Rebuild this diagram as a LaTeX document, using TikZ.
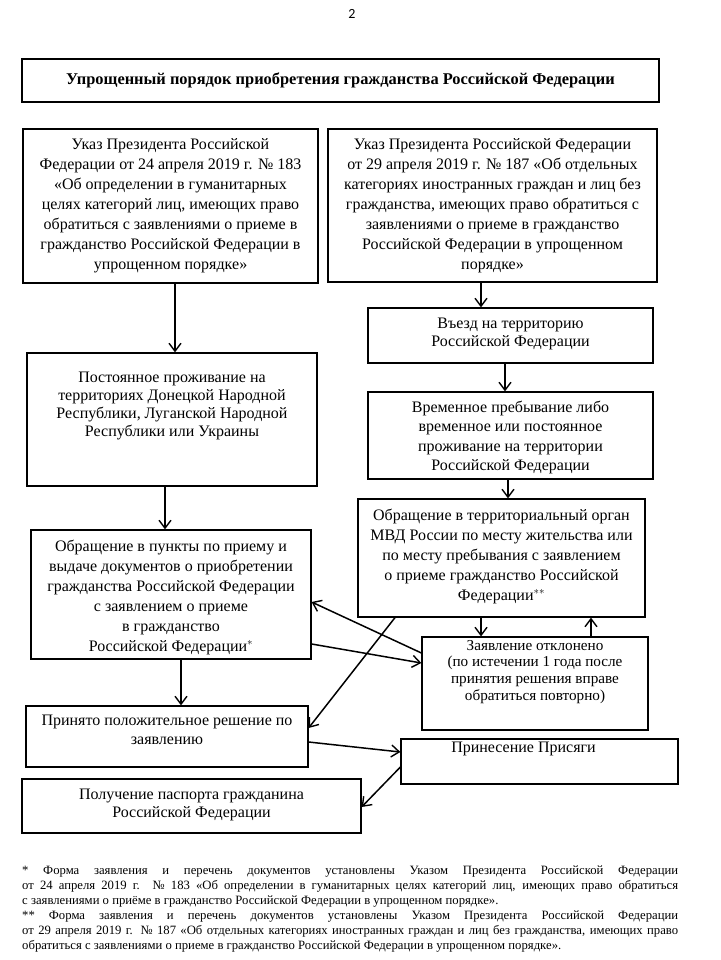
\documentclass[tikz,border=0pt]{standalone}
\usepackage{fontspec}
\setmainfont{Liberation Serif}
\newfontfamily\pagenumfont{Carlito}
\usetikzlibrary{arrows.meta}
\newcommand{\bxt}[4]{\parbox[c][#2][t]{#1}{\centering\vspace*{#3}#4\par}}
\tikzset{
  box/.style={draw, line width=1.2pt, inner sep=0pt, font=\fontsize{16}{20}\selectfont},
  arr/.style={line width=1.5pt, -{Straight Barb[length=8pt,width=12pt,line width=1.4pt]}},
}
\begin{document}
\begin{tikzpicture}[x=1pt,y=-1pt]
\useasboundingbox (0,0) rectangle (720,960);

\node[font=\pagenumfont\fontsize{14}{16}\selectfont] (pg) at (352,14) {2};

\node[box, minimum width=637pt, minimum height=43pt, font=\bfseries\fontsize{16.4}{20}\selectfont] (title) at (340.5,80.5)
  {Упрощенный порядок приобретения гражданства Российской Федерации};

\node[box] (A) at (170.5,206) {\bxt{295pt}{154pt}{10pt}{Указ Президента Российской\\ Федерации от 24 апреля 2019 г. № 183\\ «Об определении в гуманитарных\\ целях категорий лиц, имеющих право\\ обратиться с заявлениями о приеме в\\ гражданство Российской Федерации в\\ упрощенном порядке»}};

\node[box] (B) at (492.5,205.5) {\bxt{329pt}{153pt}{10pt}{Указ Президента Российской Федерации\\ от 29 апреля 2019 г. № 187 «Об отдельных\\ категориях иностранных граждан и лиц без\\ гражданства, имеющих право обратиться с\\ заявлениями о приеме в гражданство\\ Российской Федерации в упрощенном\\ порядке»}};

\node[box] (V) at (510.5,335.5) {\bxt{285pt}{55pt}{10pt}{\fontsize{16}{18}\selectfont Въезд на территорию\\ Российской Федерации}};

\node[box] (Vr) at (510.5,435.5) {\bxt{285pt}{87pt}{9pt}{\fontsize{16}{19.5}\selectfont Временное пребывание либо\\ временное или постоянное\\ проживание на территории\\ Российской Федерации}};

\node[box] (P) at (172,419.5) {\bxt{290pt}{133pt}{19pt}{\fontsize{16}{18}\selectfont Постоянное проживание на\\ территориях Донецкой Народной\\ Республики, Луганской Народной\\ Республики или Украины}};

\node[box] (M) at (501.5,558) {\bxt{287pt}{118pt}{10pt}{Обращение в территориальный орган\\ МВД России по месту жительства или\\ по месту пребывания с заявлением\\ о приеме гражданство Российской\\ Федерации$^{**}$}};

\node[box] (L) at (171,594.5) {\bxt{280pt}{129pt}{10pt}{Обращение в пункты по приему и\\ выдаче документов о приобретении\\ гражданства Российской Федерации\\ с заявлением о приеме\\ в гражданство\\ Российской Федерации$^{*}$}};

\node[box] (O) at (535,683.5) {\bxt{226pt}{93pt}{3pt}{\fontsize{15.2}{16.7}\selectfont Заявление отклонено\\ (по истечении 1 года после\\ принятия решения вправе\\ обратиться повторно)}};

\node[box] (Pr) at (167,736.5) {\bxt{282pt}{61pt}{9pt}{\fontsize{16}{19}\selectfont Принято положительное решение по\\ заявлению}};

\node[box] (S) at (539.5,761.5) {\bxt{277pt}{45pt}{3pt}{Принесение Присяги\hspace*{32pt}}};

\node[box] (G) at (191.5,806) {\bxt{339pt}{54pt}{10pt}{\fontsize{16}{18}\selectfont Получение паспорта гражданина\\ Российской Федерации}};

\draw[arr] ([xshift=4.5pt]A.south) -- ([xshift=4.5pt]A.south |- P.north);
\draw[arr] ([xshift=-11.5pt]B.south) -- ([xshift=-11.5pt]B.south |- V.north);
\draw[arr] ([xshift=-5.5pt]V.south) -- ([xshift=-5.5pt]V.south |- Vr.north);
\draw[arr] ([xshift=-2.5pt]Vr.south) -- ([xshift=-2.5pt]Vr.south |- M.north);
\draw[arr] ([xshift=-7pt]P.south) -- ([xshift=-7pt]P.south |- L.north);
\draw[arr] ([xshift=-20.5pt]M.south) -- ([xshift=-20.5pt]M.south |- O.north);
\draw[arr] ([xshift=56pt]O.north) -- ([xshift=56pt]O.north |- M.south);
\draw[arr] ([yshift=30.5pt]O.west) -- ([yshift=-7.5pt]L.east);
\draw[arr] ([yshift=-49.5pt]L.east) -- ([yshift=20.5pt]O.west);
\draw[arr] ([xshift=-106.5pt]M.south) -- ([yshift=8.5pt]Pr.east);
\draw[arr] ([xshift=10pt]L.south) -- ([xshift=10pt]L.south |- Pr.north);
\draw[arr] ([yshift=-5.5pt]Pr.east) -- ([yshift=9.5pt]S.west);
\draw[arr] ([yshift=-5.5pt]S.west) -- ([yshift=-1pt]G.east);

\node[anchor=north west, inner sep=0pt, text width=656pt, align=justify, font=\fontsize{12.7}{15}\selectfont] (fn) at (22,866)
{* Форма заявления и перечень документов установлены Указом Президента Российской Федерации\linebreak
от 24 апреля 2019 г. № 183 «Об определении в гуманитарных целях категорий лиц, имеющих право обратиться\linebreak
с заявлениями о приёме в гражданство Российской Федерации в упрощенном порядке».\par
** Форма заявления и перечень документов установлены Указом Президента Российской Федерации\linebreak
от 29 апреля 2019 г. № 187 «Об отдельных категориях иностранных граждан и лиц без гражданства, имеющих право\linebreak
обратиться с заявлениями о приеме в гражданство Российской Федерации в упрощенном порядке».};
\end{tikzpicture}
\end{document}
